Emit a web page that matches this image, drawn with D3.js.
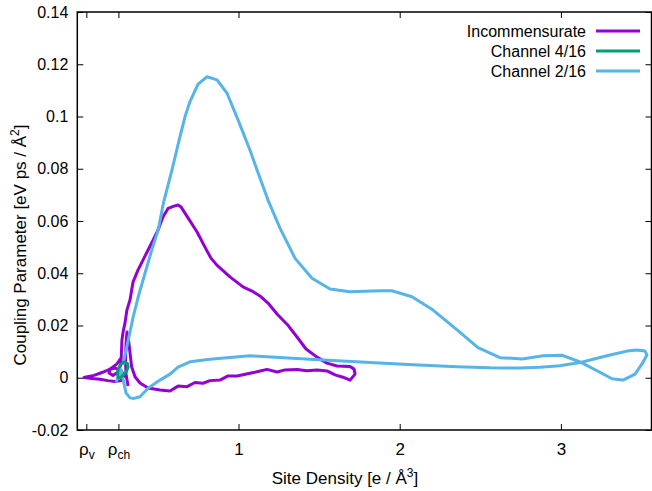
<!DOCTYPE html>
<html>
<head>
<meta charset="utf-8">
<script src="https://cdn.jsdelivr.net/npm/d3@7"></script>
<style>
  body { margin: 0; background: #fff; }
  svg { display: block; font-family: "Liberation Sans", "DejaVu Sans", sans-serif; }
  .axis text { font-size: 16px; fill: #000; }
  .axis line { stroke: #000; stroke-width: 1; }
</style>
</head>
<body>
<svg id="chart" width="652" height="491"></svg>
<script>
// series: [site density, coupling parameter]
const incommensurate = [
  [0.271, 0.0075], [0.246, 0.0053], [0.203, 0.0033], [0.153, 0.0020], [0.104, 0.0009],
  [0.054, 0.0003], [0.042, 0.0001], [0.091, -0.0003], [0.141, -0.0006], [0.190, -0.0011],
  [0.234, -0.0014], [0.271, -0.0011], [0.290, 0.0007], [0.271, 0.0028], [0.234, 0.0037],
  [0.203, 0.0032], [0.197, 0.0018], [0.221, 0.0009], [0.253, 0.0022], [0.271, 0.0053],
  [0.274, 0.0099], [0.277, 0.0144], [0.284, 0.0175], [0.296, 0.0210], [0.308, 0.0260],
  [0.327, 0.0298], [0.346, 0.0367], [0.377, 0.0413], [0.408, 0.0451], [0.439, 0.0489],
  [0.470, 0.0527], [0.501, 0.0566], [0.532, 0.0616], [0.563, 0.0648], [0.600, 0.0657],
  [0.625, 0.0661], [0.643, 0.0654], [0.687, 0.0612], [0.743, 0.0558], [0.792, 0.0500],
  [0.829, 0.0458], [0.866, 0.0431], [0.947, 0.0386], [1.028, 0.0348], [1.084, 0.0332],
  [1.133, 0.0313], [1.183, 0.0286], [1.239, 0.0244], [1.301, 0.0205], [1.363, 0.0156],
  [1.419, 0.0110], [1.487, 0.0079], [1.549, 0.0056], [1.611, 0.0045], [1.692, 0.0043],
  [1.717, 0.0033], [1.723, 0.0014], [1.692, -0.0009], [1.648, 0.0002], [1.599, 0.0011],
  [1.549, 0.0026], [1.487, 0.0030], [1.425, 0.0027], [1.363, 0.0032], [1.289, 0.0030],
  [1.239, 0.0022], [1.177, 0.0032], [1.115, 0.0023], [1.071, 0.0017], [0.991, 0.0007],
  [0.935, 0.0007], [0.885, -0.0009], [0.823, -0.0011], [0.780, -0.0021], [0.730, -0.0018],
  [0.681, -0.0034], [0.625, -0.0032], [0.575, -0.0051], [0.513, -0.0047], [0.439, -0.0039],
  [0.389, -0.0020], [0.358, 0.0004], [0.337, 0.0042], [0.327, 0.0095], [0.318, 0.0144],
  [0.308, 0.0175], [0.302, 0.0125], [0.299, 0.0068], [0.302, 0.0014], [0.315, -0.0032]
];

const channel4 = [
  [0.249, 0.0007], [0.252, 0.0030], [0.268, 0.0051], [0.290, 0.0060], [0.311, 0.0055],
  [0.315, 0.0041], [0.302, 0.0020], [0.277, 0.0005], [0.256, -0.0001], [0.249, 0.0007]
];

const channel2 = [
  [0.240, -0.0018], [0.258, 0.0010], [0.270, 0.0032], [0.285, -0.0009], [0.302, -0.0058],
  [0.327, -0.0077], [0.352, -0.0079], [0.389, -0.0073], [0.439, -0.0040], [0.513, -0.0009],
  [0.575, 0.0014], [0.625, 0.0041], [0.699, 0.0061], [0.823, 0.0071], [1.071, 0.0084],
  [1.443, 0.0071], [1.816, 0.0058], [2.083, 0.0050], [2.356, 0.0042], [2.560, 0.0038],
  [2.746, 0.0037], [2.870, 0.0040], [2.994, 0.0046], [3.118, 0.0058], [3.199, 0.0071],
  [3.305, 0.0087], [3.410, 0.0102], [3.472, 0.0106], [3.522, 0.0102], [3.534, 0.0087],
  [3.503, 0.0053], [3.460, 0.0014], [3.385, -0.0009], [3.317, -0.0004], [3.224, 0.0027],
  [3.118, 0.0061], [3.007, 0.0086], [2.889, 0.0084], [2.759, 0.0072], [2.622, 0.0077],
  [2.486, 0.0115], [2.356, 0.0183], [2.207, 0.0259], [2.076, 0.0310], [1.952, 0.0333],
  [1.878, 0.0333], [1.692, 0.0329], [1.568, 0.0340], [1.456, 0.0381], [1.351, 0.0457],
  [1.258, 0.0572], [1.183, 0.0680], [1.115, 0.0795], [1.071, 0.0872], [0.997, 0.0987],
  [0.929, 0.1089], [0.867, 0.1140], [0.805, 0.1152], [0.749, 0.1124], [0.699, 0.1057],
  [0.668, 0.0999], [0.637, 0.0923], [0.587, 0.0795], [0.534, 0.0668], [0.502, 0.0566],
  [0.462, 0.0489], [0.420, 0.0400], [0.378, 0.0310], [0.347, 0.0234], [0.316, 0.0144],
  [0.296, 0.0087], [0.283, 0.0049]
];

const seriesNames = ['Incommensurate', 'Channel 4/16', 'Channel 2/16'];
const seriesColors = ['#9400d3', '#009e73', '#56b4e9'];

const xTickValues = [0.056, 0.255, 1, 2, 3];
const xTickLabels = [['ρ', 'v'], ['ρ', 'ch'], ['1'], ['2'], ['3']];
const yTickValues = [-0.02, 0, 0.02, 0.04, 0.06, 0.08, 0.1, 0.12, 0.14];

const margin = { top: 12, right: 0.5, bottom: 61, left: 77.3 };
const W = 652, H = 491;
const innerW = W - margin.left - margin.right;
const innerH = H - margin.top - margin.bottom;

const svg = d3.select('#chart');
const g = svg.append('g').attr('transform', `translate(${margin.left},${margin.top})`);

const x = d3.scaleLinear().domain([0, 3.562]).range([0, innerW]);
const y = d3.scaleLinear().domain([-0.02, 0.14]).range([innerH, 0]);

// axes, gnuplot style: ticks inward and mirrored
g.append('g').attr('class', 'axis')
  .call(d3.axisLeft(y).tickValues(yTickValues).tickSize(-6).tickPadding(9)
    .tickFormat(d => String(+d.toFixed(2))));
g.append('g').attr('class', 'axis').attr('transform', `translate(${innerW},0)`)
  .call(d3.axisRight(y).tickValues(yTickValues).tickSize(-6).tickFormat(''));

const xAxis = g.append('g').attr('class', 'axis').attr('transform', `translate(0,${innerH})`)
  .call(d3.axisBottom(x).tickValues(xTickValues).tickSize(-6).tickPadding(14).tickFormat(''));
g.append('g').attr('class', 'axis')
  .call(d3.axisTop(x).tickValues(xTickValues).tickSize(-6).tickFormat(''));

g.selectAll('.axis .domain').remove();

xAxis.selectAll('.tick text').each(function(d, i) {
  const t = d3.select(this).attr('dy', '0.71em');
  const lab = xTickLabels[i];
  t.append('tspan').text(lab[0]).style('font-size', '17px');
  if (lab[1]) t.append('tspan').text(lab[1]).attr('dy', '4').style('font-size', '12px');
});

// frame
g.append('rect')
  .attr('width', innerW).attr('height', innerH)
  .attr('fill', 'none').attr('stroke', '#000').attr('stroke-width', 1.5);

// curves (the small 4/16 loop goes last so it stays visible)
const line = d3.line().x(d => x(d[0])).y(d => y(d[1]));
const allSeries = [
  { data: incommensurate, color: seriesColors[0] },
  { data: channel2, color: seriesColors[2] },
  { data: channel4, color: seriesColors[1] }
];

g.selectAll('path.series')
  .data(allSeries)
  .join('path')
  .attr('class', 'series')
  .attr('d', d => line(d.data))
  .attr('fill', 'none')
  .attr('stroke', d => d.color)
  .attr('stroke-width', 3)
  .attr('stroke-linejoin', 'round');

// legend
const legend = svg.append('g').attr('transform', 'translate(586,31)');
seriesNames.forEach((name, i) => {
  const row = legend.append('g').attr('transform', `translate(0,${i * 20})`);
  row.append('text').attr('text-anchor', 'end').attr('dy', '0.35em')
    .style('font-size', '16px').text(name);
  row.append('line').attr('x1', 10).attr('x2', 54)
    .attr('stroke', seriesColors[i]).attr('stroke-width', 3);
});

// axis titles
const xt = svg.append('text').attr('x', 345).attr('y', 484)
  .attr('text-anchor', 'middle').style('font-size', '17px');
xt.append('tspan').text('Site Density [e / Å');
xt.append('tspan').text('3').attr('dy', -7).style('font-size', '12px');
xt.append('tspan').text(']').attr('dy', 7);

const yt = svg.append('text').attr('transform', 'translate(26,245) rotate(-90)')
  .attr('text-anchor', 'middle').style('font-size', '17px');
yt.append('tspan').text('Coupling Parameter [eV ps / Å');
yt.append('tspan').text('2').attr('dy', -7).style('font-size', '12px');
yt.append('tspan').text(']').attr('dy', 7);
</script>
</body>
</html>
